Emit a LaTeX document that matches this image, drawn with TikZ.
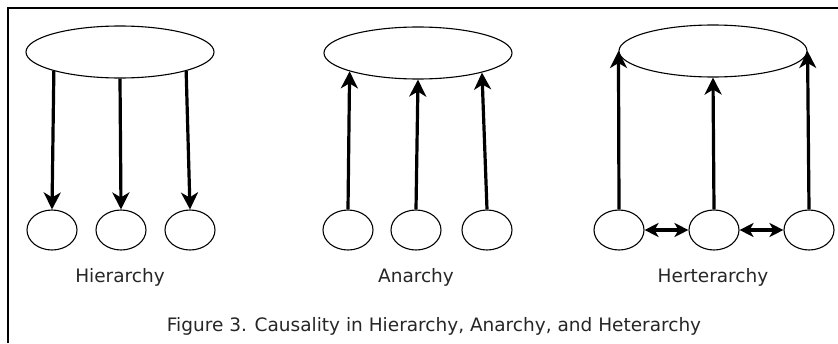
\documentclass[tikz,border=0pt]{standalone}
\usepackage{fontspec}
\setmainfont{DejaVu Sans}
\usetikzlibrary{positioning,arrows.meta,shapes.geometric}

\begin{document}
\begin{tikzpicture}[x=1pt,y=-1pt,
  whole/.style={draw,ellipse,line width=1.1pt,minimum width=188pt,minimum height=52pt,inner sep=0pt},
  part/.style={draw,ellipse,line width=1.1pt,minimum width=50pt,minimum height=40pt,inner sep=0pt},
  cause/.style={line width=3.2pt,-{Stealth[length=17pt,width=17pt,inset=5pt]}},
  mutual/.style={line width=3.2pt,{Stealth[length=14pt,width=14pt,inset=4pt]}-{Stealth[length=14pt,width=14pt,inset=4pt]}},
  lbl/.style={font=\fontsize{18.5}{21}\selectfont,text=black!85}]
\useasboundingbox (0,0) rectangle (838,343);
% frame
\draw[line width=2pt] (8,343) -- (8,7.5) -- (838,7.5);
% wholes
\node[whole] (hier) at (120,52) {};
\node[whole] (anar) at (418,53) {};
\node[whole] (hetr) at (713,51) {};
% parts
\foreach \n/\x in {hier1/52,hier2/121,hier3/190,anar1/348,anar2/416,anar3/487,hetr1/619,hetr2/714,hetr3/809}
  \node[part] (\n) at (\x,230) {};
% hierarchy: top down
\draw[cause] (hier.196) -- (hier1.north);
\draw[cause] (hier.south) -- (hier2.north);
\draw[cause] (hier.344) -- (hier3.north);
% anarchy: bottom up
\draw[cause] (anar1.north) -- (anar.195);
\draw[cause] (anar2.north) -- (anar.south);
\draw[cause] (anar3.north) -- (anar.343);
% heterarchy: bottom up and sideways
\draw[cause] (hetr1.north) -- (hetr.west);
\draw[cause] (hetr2.north) -- (hetr.south);
\draw[cause] (hetr3.north) -- (hetr.east);
\draw[mutual] (hetr1.east) -- (hetr2.west);
\draw[mutual] (hetr2.east) -- (hetr3.west);
% labels
\node[lbl] (hierlbl) at (120,277) {Hierarchy};
\node[lbl] (anarlbl) at (416,277) {Anarchy};
\node[lbl] (hetrlbl) at (713,277) {Herterarchy};
\node[lbl] (caption) at (434,326) {Figure 3. Causality in Hierarchy, Anarchy, and Heterarchy};
\end{tikzpicture}
\end{document}
